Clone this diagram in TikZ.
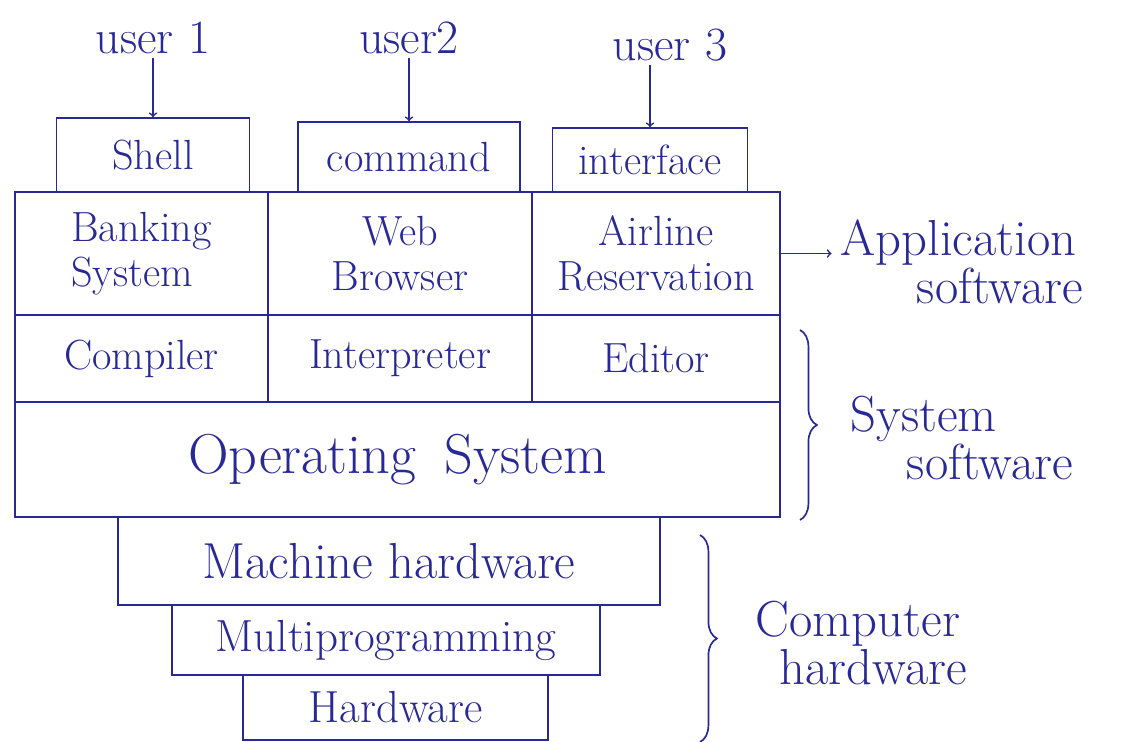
\documentclass[tikz,border=0pt]{standalone}
\usetikzlibrary{positioning,decorations.pathreplacing}

\definecolor{ink}{RGB}{40,40,150}
\tikzstyle{layer} = [rectangle, text centered, align=center, draw=ink, text=ink, inner sep=2pt, font=\fontsize{30}{32}\selectfont]
\tikzstyle{user} = [text=ink, inner sep=2pt, font=\fontsize{34}{36}\selectfont]
\tikzstyle{sidenote} = [text=ink, align=left, inner sep=0pt, font=\fontsize{36}{34}\selectfont]
\tikzstyle{arrow} = [->,>=to, draw=ink]
\tikzstyle{bracket} = [draw=ink, decorate, decoration={brace, amplitude=12pt}]

\begin{document}
\begin{tikzpicture}[x=0.025cm, y=-0.025cm, line width=1.2pt]
		\useasboundingbox (0,0) rectangle (1123,742);
		
		\node (userOne) [user] at (153,38) {user 1};
		\node (userTwo) [user] at (409,38) {user2};
		\node (userThree) [user] at (670,45) {user 3};
		
		\node (shell) [layer, minimum width=4.825cm, minimum height=1.85cm] at (153,155) {Shell};
		\node (command) [layer, minimum width=5.55cm, minimum height=1.75cm] at (409,157) {command};
		\node (interface) [layer, minimum width=4.875cm, minimum height=1.6cm] at (650,160) {interface};
		
		\node (banking) [layer, align=left, minimum width=6.325cm, minimum height=3.075cm] at (141.5,253.5) {Banking\\System};
		\node (browser) [layer, minimum width=6.6cm, minimum height=3.075cm] at (400,253.5) {Web\\Browser};
		\node (airline) [layer, minimum width=6.2cm, minimum height=3.075cm] at (656,253.5) {Airline\\Reservation};
		
		\node (compiler) [layer, minimum width=6.325cm, minimum height=2.175cm] at (141.5,358.5) {Compiler};
		\node (interpreter) [layer, minimum width=6.6cm, minimum height=2.175cm] at (400,358.5) {Interpreter};
		\node (editor) [layer, minimum width=6.2cm, minimum height=2.175cm] at (656,358.5) {Editor};
		
		\node (os) [layer, minimum width=19.125cm, minimum height=2.875cm, font=\fontsize{40}{42}\selectfont] at (397.5,459.5) {Operating\enspace System};
		\node (machine) [layer, minimum width=13.55cm, minimum height=2.2cm, font=\fontsize{36}{38}\selectfont] at (389,561) {Machine hardware};
		\node (multi) [layer, minimum width=10.7cm, minimum height=1.75cm, font=\fontsize{32}{34}\selectfont] at (386,640) {Multiprogramming};
		\node (hardware) [layer, minimum width=7.625cm, minimum height=1.625cm, font=\fontsize{32}{34}\selectfont] at (395.5,707.5) {Hardware};
		
		\node (appSoftware) [sidenote, anchor=west] at (840,262) {Application\\\hspace*{1.9cm}software};
		\node (sysSoftware) [sidenote, anchor=west] at (850,438) {System\\\hspace*{1.4cm}software};
		\node (compHardware) [sidenote, anchor=west] at (755,643) {Computer\\\hspace*{0.6cm}hardware};
		
		\coordinate (sysTop) at (800,330);
		\coordinate (sysBottom) at (800,520);
		\coordinate (hwTop) at (700,535);
		\coordinate (hwBottom) at (700,742);
		
		\draw [arrow] (userOne) -- (shell);
		\draw [arrow] (userTwo) -- (command);
		\draw [arrow] (userThree.south -| interface.north) -- (interface.north);
		\draw [arrow, shorten >=6pt] (airline.east) -- (airline.east -| appSoftware.west);
		
		\draw [bracket] (sysTop) -- (sysBottom);
		\draw [bracket] (hwTop) -- (hwBottom);
	
	\end{tikzpicture}
\end{document}
